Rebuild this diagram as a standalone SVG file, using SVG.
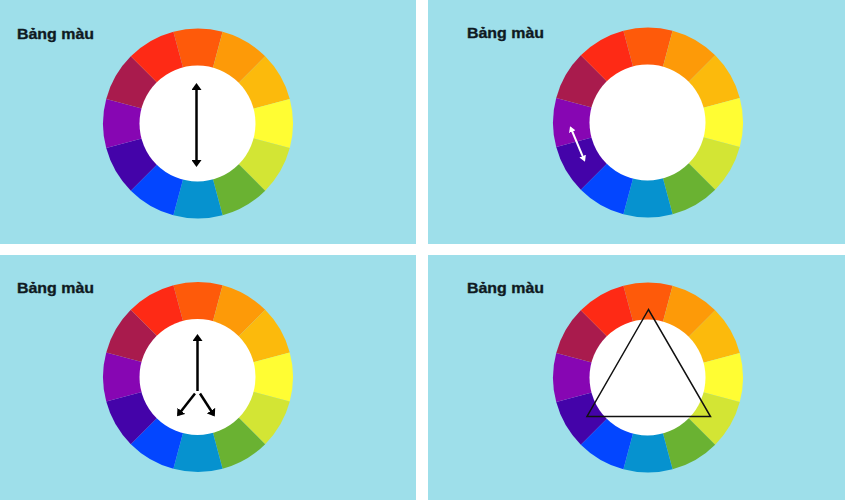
<svg xmlns="http://www.w3.org/2000/svg" xmlns:xlink="http://www.w3.org/1999/xlink" width="845" height="500" viewBox="0 0 845 500">
<style>
.panel{fill:#9edfea}
.title{font-family:"Liberation Sans",Arial,sans-serif;font-weight:bold;font-size:15px;fill:#0f1a22;stroke:#0f1a22;stroke-width:0.35}
.arrow{stroke:#000;stroke-width:2.5;fill:none}
.warrow{stroke:#fff;stroke-width:2;fill:none}
</style>
<defs>
<marker id="ah" viewBox="0 0 7 10" refX="5" refY="5" markerWidth="7" markerHeight="10" markerUnits="userSpaceOnUse" orient="auto-start-reverse">
<path d="M0 0 L7 5 L0 10 Z" fill="#000"/>
</marker>
<marker id="wh" viewBox="0 0 6 7" refX="4" refY="3.5" markerWidth="6" markerHeight="7" markerUnits="userSpaceOnUse" orient="auto-start-reverse">
<path d="M0 0 L6 3.5 L0 7 Z" fill="#fff"/>
</marker>
<g id="wheel">
<path d="M0 0 L-24.59 -91.76 A95 95 0 0 1 24.59 -91.76 Z" fill="#fe5a0a"/>
<path d="M0 0 L24.59 -91.76 A95 95 0 0 1 67.18 -67.18 Z" fill="#fd9a08"/>
<path d="M0 0 L67.18 -67.18 A95 95 0 0 1 91.76 -24.59 Z" fill="#fcba0c"/>
<path d="M0 0 L91.76 -24.59 A95 95 0 0 1 91.76 24.59 Z" fill="#fffd33"/>
<path d="M0 0 L91.76 24.59 A95 95 0 0 1 67.18 67.18 Z" fill="#d3e534"/>
<path d="M0 0 L67.18 67.18 A95 95 0 0 1 24.59 91.76 Z" fill="#6ab232"/>
<path d="M0 0 L24.59 91.76 A95 95 0 0 1 -24.59 91.76 Z" fill="#0692cf"/>
<path d="M0 0 L-24.59 91.76 A95 95 0 0 1 -67.18 67.18 Z" fill="#0346ff"/>
<path d="M0 0 L-67.18 67.18 A95 95 0 0 1 -91.76 24.59 Z" fill="#4403a9"/>
<path d="M0 0 L-91.76 24.59 A95 95 0 0 1 -91.76 -24.59 Z" fill="#8706b3"/>
<path d="M0 0 L-91.76 -24.59 A95 95 0 0 1 -67.18 -67.18 Z" fill="#a91b4d"/>
<path d="M0 0 L-67.18 -67.18 A95 95 0 0 1 -24.59 -91.76 Z" fill="#fe2a15"/>
<circle cx="-0.5" cy="0" r="58" fill="#fff"/>
</g>
</defs>
<rect x="0" y="0" width="845" height="500" fill="#fff"/>
<g id="panel1">
<rect class="panel" x="0" y="0" width="416" height="244"/>
<text class="title" x="17" y="38.5" textLength="77" lengthAdjust="spacingAndGlyphs">Bảng màu</text>
<use xlink:href="#wheel" href="#wheel" x="198" y="123.5"/>
</g>
<g id="panel2">
<rect class="panel" x="428" y="0" width="417" height="244"/>
<text class="title" x="467" y="37.5" textLength="77" lengthAdjust="spacingAndGlyphs">Bảng màu</text>
<use xlink:href="#wheel" href="#wheel" x="648" y="122.5"/>
</g>
<g id="panel3">
<rect class="panel" x="0" y="255" width="416" height="245"/>
<text class="title" x="17" y="292.5" textLength="77" lengthAdjust="spacingAndGlyphs">Bảng màu</text>
<use xlink:href="#wheel" href="#wheel" x="198" y="377"/>
</g>
<g id="panel4">
<rect class="panel" x="428" y="255" width="417" height="245"/>
<text class="title" x="467" y="292.5" textLength="77" lengthAdjust="spacingAndGlyphs">Bảng màu</text>
<use xlink:href="#wheel" href="#wheel" x="648" y="377.5"/>
</g>
<g id="connectors">
<line class="arrow" x1="196.5" y1="85" x2="196.5" y2="165" marker-start="url(#ah)" marker-end="url(#ah)"/>
<line class="warrow" x1="570.8" y1="128" x2="584.2" y2="159.8" marker-start="url(#wh)" marker-end="url(#wh)"/>
<line class="arrow" x1="197.5" y1="391" x2="197.5" y2="336" marker-end="url(#ah)"/>
<line class="arrow" x1="195" y1="393.5" x2="178.3" y2="414.8" marker-end="url(#ah)"/>
<line class="arrow" x1="200" y1="393.5" x2="213.7" y2="414.8" marker-end="url(#ah)"/>
<polygon points="648.5,309.5 587,416.5 710.5,416.5" fill="none" stroke="#111" stroke-width="1.5"/>
</g>
</svg>
